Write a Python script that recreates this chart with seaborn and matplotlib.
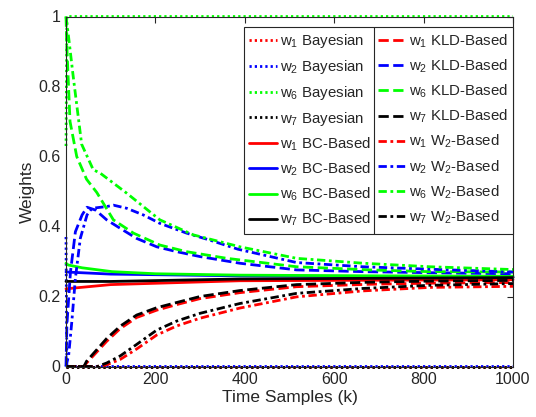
import numpy as np
import pandas as pd
import matplotlib
matplotlib.use("Agg")
import matplotlib.pyplot as plt
from matplotlib.lines import Line2D
import seaborn as sns

# ---------------- data ----------------
# Bayesian
bay_k = [0, 2, 4, 1000]
bay_w1 = [0.0, 0.0, 0.0, 0.0]
bay_w2 = [0.37, 0.0, 0.0, 0.0]
bay_w6 = [0.63, 1.0, 1.0, 1.0]
bay_w7 = [0.0, 0.0, 0.0, 0.0]

# BC-Based
bc_k6 = [0, 5, 36, 103, 200, 389, 700, 1000]
bc_w6 = [0.295, 0.29, 0.282, 0.271, 0.265, 0.261, 0.259, 0.258]
bc_k = [0, 100, 389, 1000]
bc_w1 = [0.222, 0.234, 0.245, 0.248]
bc_w2 = [0.27, 0.264, 0.259, 0.255]
bc_w7 = [0.243, 0.243, 0.25, 0.254]

# KLD-Based
kld_k6 = [0, 2, 9, 24, 46, 69, 106, 151, 210, 270, 360, 516, 680, 814, 1000]
kld_w6 = [1.0, 0.91, 0.70, 0.60, 0.535, 0.497, 0.419, 0.381, 0.347, 0.328, 0.309, 0.285, 0.276, 0.271, 0.27]
kld_k2 = [0, 2, 10, 21, 36, 47, 66, 91, 121, 158, 203, 248, 300, 389, 516, 664, 814, 1000]
kld_w2 = [0.0, 0.12, 0.27, 0.385, 0.433, 0.455, 0.447, 0.419, 0.395, 0.366, 0.342, 0.328, 0.314, 0.295, 0.276, 0.271, 0.268, 0.265]
kld_k17 = [0, 40, 46, 91, 121, 158, 203, 248, 300, 389, 516, 680, 814, 1000]
kld_w7 = [0, 0, 0.015, 0.08, 0.115, 0.147, 0.168, 0.183, 0.2, 0.217, 0.234, 0.241, 0.244, 0.246]
kld_w1 = [0, 0, 0.01, 0.072, 0.108, 0.14, 0.161, 0.177, 0.194, 0.211, 0.228, 0.235, 0.238, 0.24]

# W2-Based
w2_k6 = [0, 5, 16, 35, 61, 76, 136, 210, 285, 389, 516, 665, 814, 1000]
w2_w6 = [1.0, 0.95, 0.83, 0.635, 0.562, 0.553, 0.495, 0.419, 0.376, 0.342, 0.309, 0.295, 0.285, 0.277]
w2_k2 = [0, 6, 13, 21, 32, 47, 58, 91, 106, 136, 173, 210, 270, 322, 385, 516, 664, 814, 1000]
w2_w2 = [0.0, 0.033, 0.128, 0.252, 0.366, 0.433, 0.452, 0.457, 0.461, 0.452, 0.433, 0.409, 0.381, 0.361, 0.335, 0.297, 0.285, 0.278, 0.27]
w2_k17 = [0, 70, 91, 121, 158, 203, 248, 300, 389, 516, 664, 814, 1000]
w2_w7 = [0, 0, 0.01, 0.03, 0.063, 0.104, 0.13, 0.152, 0.18, 0.209, 0.223, 0.232, 0.237]
w2_w1 = [0, 0, 0.005, 0.02, 0.05, 0.09, 0.116, 0.138, 0.167, 0.199, 0.216, 0.226, 0.229]

x_ticks = [0, 200, 400, 600, 800, 1000]
x_tick_labels = ["0", "200", "400", "600", "800", "1000"]
y_ticks = [0, 0.2, 0.4, 0.6, 0.8, 1.0]
y_tick_labels = ["0", "0.2", "0.4", "0.6", "0.8", "1"]

# ---------------- style ----------------
sns.set_theme(style="white")
plt.rcParams["font.family"] = ["Liberation Sans", "DejaVu Sans"]
plt.rcParams["mathtext.fontset"] = "custom"
plt.rcParams["mathtext.rm"] = "Liberation Sans"
plt.rcParams["mathtext.default"] = "regular"

RED, BLUE, GREEN, BLACK = "#ff0000", "#0000ff", "#00ff00", "#000000"
LW = 2.0
DOT = (0, (0.8, 1.1))
DASH = "--"
DASHDOT = (0, (3.0, 1.3, 1.0, 1.3))
SOLID = "-"

series = [
    (bay_k, bay_w1, RED, DOT, "w$_1$ Bayesian"),
    (bay_k, bay_w2, BLUE, DOT, "w$_2$ Bayesian"),
    (bay_k, bay_w6, GREEN, DOT, "w$_6$ Bayesian"),
    (bay_k, bay_w7, BLACK, DOT, "w$_7$ Bayesian"),
    (bc_k, bc_w1, RED, SOLID, "w$_1$ BC-Based"),
    (bc_k, bc_w2, BLUE, SOLID, "w$_2$ BC-Based"),
    (bc_k6, bc_w6, GREEN, SOLID, "w$_6$ BC-Based"),
    (bc_k, bc_w7, BLACK, SOLID, "w$_7$ BC-Based"),
    (kld_k17, kld_w1, RED, DASH, "w$_1$ KLD-Based"),
    (kld_k2, kld_w2, BLUE, DASH, "w$_2$ KLD-Based"),
    (kld_k6, kld_w6, GREEN, DASH, "w$_6$ KLD-Based"),
    (kld_k17, kld_w7, BLACK, DASH, "w$_7$ KLD-Based"),
    (w2_k17, w2_w1, RED, DASHDOT, "w$_1$ W$_2$-Based"),
    (w2_k2, w2_w2, BLUE, DASHDOT, "w$_2$ W$_2$-Based"),
    (w2_k6, w2_w6, GREEN, DASHDOT, "w$_6$ W$_2$-Based"),
    (w2_k17, w2_w7, BLACK, DASHDOT, "w$_7$ W$_2$-Based"),
]

fig = plt.figure(figsize=(5.36, 4.17), dpi=100)
ax = fig.add_axes([66 / 536, 1 - 366.5 / 417, (513 - 66) / 536, 350 / 417])

handles = []
for k, w, c, ls, lab in series:
    df = pd.DataFrame({"k": k, "w": w})
    sns.lineplot(data=df, x="k", y="w", ax=ax, color=c, linestyle=ls,
                 linewidth=LW, estimator=None, sort=False, legend=False,
                 clip_on=False)
    handles.append(Line2D([], [], color=c, linestyle=ls, linewidth=LW))

ax.set_xlim(0, 1000)
ax.set_ylim(0, 1)
ax.set_xticks(x_ticks)
ax.set_xticklabels(x_tick_labels)
ax.set_yticks(y_ticks)
ax.set_yticklabels(y_tick_labels)
TXT = "#262626"
ax.tick_params(direction="in", length=4, width=0.8, colors=TXT,
               labelsize=11.5, top=True, right=True, pad=4)
for s in ax.spines.values():
    s.set_color(TXT)
    s.set_linewidth(0.8)
ax.set_xlabel("Time Samples (k)", fontsize=12.5, color=TXT, labelpad=2)
ax.set_ylabel("Weights", fontsize=12.5, color=TXT, labelpad=2)

labels = [s[4] for s in series]
leg = ax.legend(handles, labels, ncol=2, loc="upper right",
                bbox_to_anchor=(1.0, 0.97), fontsize=10.8, frameon=True,
                fancybox=False, framealpha=1, edgecolor=TXT,
                handlelength=1.85, handletextpad=0.2, columnspacing=0.45,
                labelspacing=0.52, borderpad=0.35, borderaxespad=0.0)
leg.get_frame().set_linewidth(0.8)

# vertical divider between legend columns (MATLAB-like)
fig.canvas.draw()
r = fig.canvas.get_renderer()
texts = leg.get_texts()
col1_right = max(t.get_window_extent(r).x1 for t in texts[:8])
col2_left = min(h.get_window_extent(r).x0 for h in leg.legend_handles[8:])
lb = leg.get_window_extent(r)
xd = (col1_right + col2_left) / 2
inv = fig.transFigure.inverted()
(x0, y0) = inv.transform((xd, lb.y0))
(x1, y1) = inv.transform((xd, lb.y1))
fig.add_artist(Line2D([x0, x1], [y0, y1], color=TXT, linewidth=0.8))

fig.savefig("out.png", dpi=100)
